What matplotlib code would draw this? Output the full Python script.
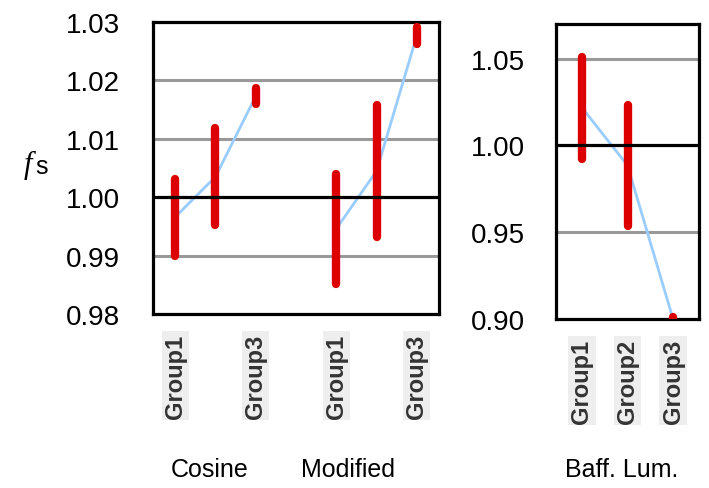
import matplotlib.pyplot as plt

plt.rcParams['font.family'] = ['Liberation Sans', 'DejaVu Sans']

groups = ["Group1", "Group2", "Group3"]

# mean and half-range of f_s per group
cosine_mean = [0.9966, 1.0035, 1.0173]
cosine_err = [0.0066, 0.0083, 0.0014]
modified_mean = [0.9946, 1.0045, 1.0277]
modified_err = [0.0094, 0.0113, 0.0014]
baff_mean = [1.0218, 0.9885, 0.9000]
baff_err = [0.0294, 0.0351, 0.0010]

left_ticks = [1.03, 1.02, 1.01, 1.00, 0.99, 0.98]
right_ticks = [1.05, 1.00, 0.95, 0.90]

RED = '#dd0000'
BLUE = '#99ccff'
GRID = '#999999'


def draw_series(ax, xs, mean, err):
    ax.plot(xs, mean, color=BLUE, lw=2, zorder=2, solid_capstyle='round')
    for x, m, e in zip(xs, mean, err):
        ax.plot([x, x], [m - e, m + e], color=RED, lw=6,
                solid_capstyle='round', zorder=3)


def style_axes(ax, ticks, pad):
    for s in ax.spines.values():
        s.set_linewidth(2.3)
        s.set_color('black')
    ax.set_yticks(ticks)
    ax.set_yticklabels(['%.2f' % t for t in ticks])
    ax.tick_params(axis='y', length=0, pad=pad, labelsize=20)
    ax.tick_params(axis='x', length=0, pad=14)
    for t in ticks:
        if abs(t - 1.0) < 1e-9:
            ax.axhline(t, color='black', lw=2.3, zorder=4)
        else:
            ax.axhline(t, color=GRID, lw=2.2, zorder=1)


fig = plt.figure(figsize=(7.09, 4.89), dpi=100)

# left panel: Cosine and Modified
ax1 = fig.add_axes([0.2158, 0.3558, 0.4034, 0.597])
x_cos = [0, 1, 2]
x_mod = [4, 5, 6]
draw_series(ax1, x_cos, cosine_mean, cosine_err)
draw_series(ax1, x_mod, modified_mean, modified_err)
ax1.set_xlim(-0.55, 6.55)
ax1.set_ylim(0.98, 1.03)
style_axes(ax1, left_ticks, 24)
ax1.set_xticks([0, 2, 4, 6])
ax1.set_xticklabels([groups[0], groups[2], groups[0], groups[2]])

# right panel: Baff. Lum.
ax2 = fig.add_axes([0.7842, 0.3456, 0.2017, 0.6033])
draw_series(ax2, [0, 1, 2], baff_mean, baff_err)
ax2.set_xlim(-0.57, 2.57)
ax2.set_ylim(0.90, 1.07)
style_axes(ax2, right_ticks, 22)
ax2.set_xticks([0, 1, 2])
ax2.set_xticklabels(groups)

for ax in (ax1, ax2):
    for lab in ax.get_xticklabels():
        lab.set_rotation(90)
        lab.set_fontweight('bold')
        lab.set_fontsize(17)
        lab.set_color('#333333')
        lab.set_bbox(dict(facecolor='#eeeeee', edgecolor='none', pad=1.5))

# group names under the tick labels
fig.text(210 / 709, 1 - 470 / 489, 'Cosine', ha='center', va='center', fontsize=18)
fig.text(348 / 709, 1 - 470 / 489, 'Modified', ha='center', va='center', fontsize=18)
fig.text(622 / 709, 1 - 470 / 489, 'Baff. Lum.', ha='center', va='center', fontsize=18)

# y-axis label f_s
fig.text(28 / 709, 1 - 165 / 489, 'f', ha='center', va='center', fontsize=22,
         fontfamily='Liberation Serif', fontstyle='italic')
fig.text(42 / 709, 1 - 167 / 489, 's', ha='center', va='center', fontsize=18)

fig.savefig('out.png', dpi=100)
